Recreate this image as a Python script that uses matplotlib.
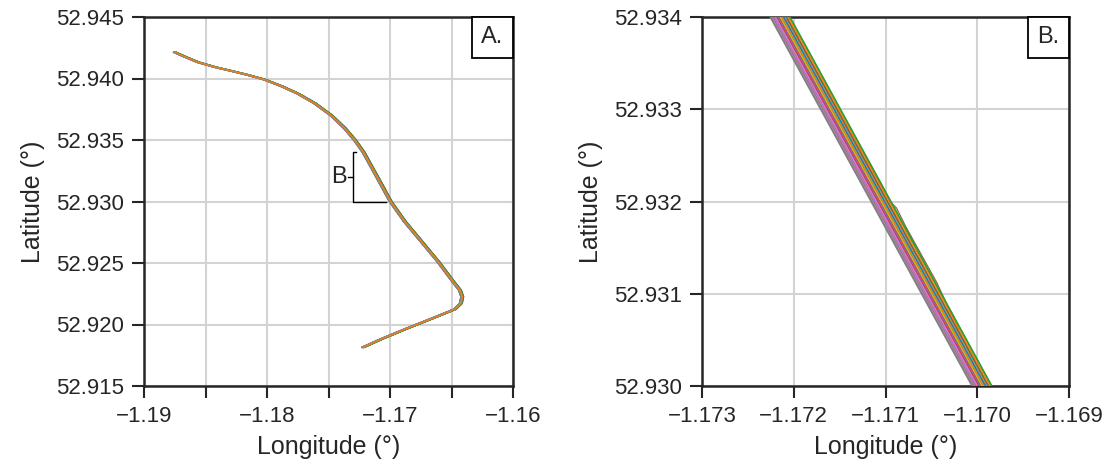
import numpy as np
import matplotlib
matplotlib.use("Agg")
import matplotlib.pyplot as plt
from matplotlib.ticker import MultipleLocator, FuncFormatter
from matplotlib.offsetbox import AnchoredText

# base track (lon, lat), B segment refined from panel B
base_lon = [-1.18748, -1.18667, -1.18559, -1.18423, -1.18287, -1.18152, -1.18016,
            -1.17880, -1.17746, -1.17610, -1.17474, -1.17366, -1.17285,
            -1.17214, -1.17104, -1.16994,
            -1.16878, -1.16742, -1.16607, -1.16485, -1.16431, -1.16412, -1.16423,
            -1.16472, -1.16607, -1.16878, -1.17068, -1.17217]
base_lat = [52.94213, 52.94177, 52.94132, 52.94093, 52.94061, 52.94028, 52.93990,
            52.93937, 52.93876, 52.93798, 52.93698, 52.93595, 52.93500,
            52.93400, 52.93200, 52.93000,
            52.92836, 52.92673, 52.92511, 52.92348, 52.92280, 52.92226, 52.92172,
            52.92124, 52.92069, 52.91961, 52.91882, 52.91815]
b_start, b_end = 13, 16  # index range of the panel-B segment

# per-track longitude offsets (deg)
track_dlon = [0.00002, 0.00006, 0.00009, -0.00003, -0.00006, 0.00004, -0.00008, -0.00012, 0.00001, 0.00003,
              -0.00002, 0.00007, 0.00010, 0.00000, -0.00005, 0.00005, -0.00009, -0.00011, -0.00001, 0.00004,
              0.00003, 0.00008, 0.00006, -0.00004, -0.00007, 0.00002, -0.00010, -0.00011, 0.00000, 0.00005,
              0.00001, 0.00004, 0.00010, -0.00002, -0.00003, 0.00006, -0.00006, -0.00009, -0.00001, 0.00002,
              0.00003, 0.00001]

# the one track with a wobble near 52.932
kink_lon = [-1.17209, -1.17095, -1.17088, -1.17078, -1.17044, -1.16992]
kink_lat = [52.9340, 52.9320, 52.93193, 52.93173, 52.93112, 52.9300]

plt.rcParams['font.family'] = ['Liberation Sans', 'DejaVu Sans']
plt.rcParams['axes.unicode_minus'] = True

dark = '#262626'
fig = plt.figure(figsize=(11.13, 4.68), dpi=100)
axA = fig.add_axes([144/1113, 82/468, 369/1113, 369/468])
axB = fig.add_axes([702/1113, 82/468, 367/1113, 369/468])

colors = plt.rcParams['axes.prop_cycle'].by_key()['color']
for i, d in enumerate(track_dlon):
    if i == 5:
        lon = base_lon[:b_start] + kink_lon + base_lon[b_end:]
        lat = base_lat[:b_start] + kink_lat + base_lat[b_end:]
    else:
        lon = [x + d for x in base_lon]
        lat = base_lat
    axA.plot(lon, lat, color=colors[i % 10], lw=1.0, zorder=3, solid_joinstyle='round')
    axB.plot(lon, lat, color=colors[i % 10], lw=0.8, zorder=3)

# bracket marking region B
axA.plot([-1.1728, -1.1730, -1.1730, -1.1703], [52.934, 52.934, 52.930, 52.930],
         color='k', lw=1.0, zorder=4)
axA.plot([-1.1730, -1.1734], [52.932, 52.932], color='k', lw=1.0, zorder=4)
axA.text(-1.1735, 52.932, 'B', ha='right', va='center', fontsize=17, color=dark)

axA.set_xlim(-1.19, -1.16)
axA.set_ylim(52.915, 52.945)
axA.xaxis.set_major_locator(MultipleLocator(0.005))
axA.yaxis.set_major_locator(MultipleLocator(0.005))
axA.xaxis.set_major_formatter(FuncFormatter(
    lambda v, p: ('%g' % round(v, 2)).replace('-', '\u2212') if abs(round(v * 100) - v * 100) < 1e-6 else ''))
axA.yaxis.set_major_formatter(FuncFormatter(lambda v, p: '%.3f' % v))

axB.set_xlim(-1.173, -1.169)
axB.set_ylim(52.930, 52.934)
axB.xaxis.set_major_locator(MultipleLocator(0.001))
axB.yaxis.set_major_locator(MultipleLocator(0.001))
axB.xaxis.set_major_formatter(FuncFormatter(lambda v, p: ('%.3f' % v).replace('-', '\u2212')))
axB.yaxis.set_major_formatter(FuncFormatter(lambda v, p: '%.3f' % v))

for ax, tag in ((axA, 'A.'), (axB, 'B.')):
    ax.grid(True, color='#d3d3d3', lw=1.5, zorder=0)
    for s in ax.spines.values():
        s.set_linewidth(1.8)
        s.set_color(dark)
    ax.tick_params(length=8.5, width=1.5, color=dark, labelsize=16, labelcolor=dark, pad=6)
    ax.set_xlabel('Longitude (°)', fontsize=18, color=dark, labelpad=6)
    ax.set_ylabel('Latitude (°)', fontsize=18, color=dark, labelpad=8)
    at = AnchoredText(tag, loc='upper right', borderpad=0, pad=0.4, prop=dict(size=17, color=dark))
    at.patch.set_linewidth(1.3)
    at.patch.set_edgecolor('k')
    at.set_zorder(5)
    ax.add_artist(at)

fig.savefig('out.png', dpi=100)
